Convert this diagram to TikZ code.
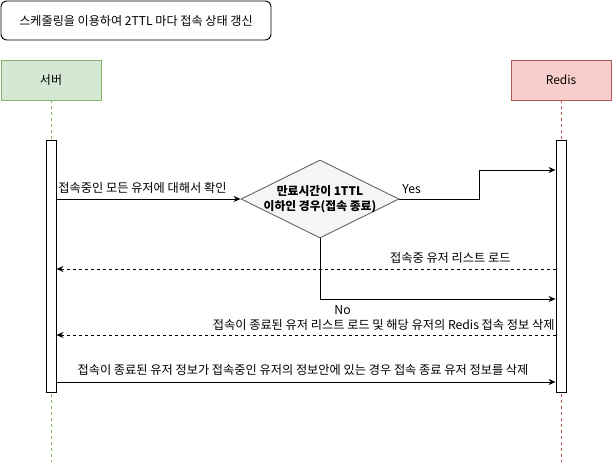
\documentclass[tikz,border=0pt]{standalone}
\usepackage{fontspec}
\setmainfont{Noto Sans CJK KR}
\usetikzlibrary{arrows.meta,shapes.geometric}
\definecolor{grfill}{HTML}{D5E8D4}
\definecolor{grline}{HTML}{82B366}
\definecolor{rdfill}{HTML}{F8CECC}
\definecolor{rdline}{HTML}{B85450}
\definecolor{dmfill}{HTML}{F5F5F5}
\definecolor{dmline}{HTML}{666666}
\tikzset{
  lbl/.style={font=\fontsize{12.2}{14}\selectfont, inner sep=0pt},
  actor/.style={minimum width=100pt, minimum height=40pt, inner sep=0pt, font=\fontsize{12}{14}\selectfont},
  bar/.style={draw, fill=white, minimum width=10pt, inner sep=0pt},
  msg/.style={-{Stealth[length=7pt,width=6pt]}},
  ret/.style={-{Stealth[length=7pt,width=6pt]}, dashed, dash pattern=on 3pt off 3pt},
}
\begin{document}
\begin{tikzpicture}[x=1pt,y=-1pt, line width=0.9pt]
\useasboundingbox (0,0) rectangle (612,462);
% title
\node[draw, rounded corners=6pt, minimum width=270pt, minimum height=39pt, inner sep=0pt, font=\fontsize{12.1}{14}\selectfont] (title) at (136,20.5) {스케줄링을 이용하여 2TTL 마다 접속 상태 갱신};
% actors
\node[actor, draw=grline, fill=grfill] (srv) at (51,80) {서버};
\node[actor, draw=rdline, fill=rdfill] (red) at (561,80) {Redis};
\coordinate (srvend) at (51,462);
\coordinate (redend) at (561,462);
\draw[grline, dashed, dash pattern=on 3pt off 3pt] (srv.south) -- (srvend);
\draw[rdline, dashed, dash pattern=on 3pt off 3pt] (red.south) -- (redend);
% activation bars
\node[bar, minimum height=252pt] (sb) at (51,266) {};
\node[bar, minimum height=252pt] (rb) at (561,266) {};
% diamond
\node[diamond, draw=dmline, fill=dmfill, minimum width=158pt, minimum height=78pt, inner sep=0pt, aspect=2] (dm) at (320,199) {};
\node[align=center, inner sep=0pt, font=\fontsize{11.8}{15}\selectfont\bfseries] (dmt) at (dm.center) {만료시간이 1TTL\\이하인 경우(접속 종료)};
% message 1
\draw[msg] (sb.east |- 0,199) -- (dm.west);
\node[lbl, anchor=south west] (l1) at (58,194) {접속중인 모든 유저에 대해서 확인};
% yes
\coordinate (y1) at (479,199);
\coordinate (y2) at (479,170);
\draw[msg] (dm.east) -- (y1) -- (y2) -- (rb.west |- 0,170);
\node[lbl, anchor=south west] (yes) at (402,194) {Yes};
% return 1
\draw[ret] (rb.west |- 0,269) -- (sb.east |- 0,269);
\node[lbl, anchor=south east] (l2) at (511,264) {접속중 유저 리스트 로드};
% no
\coordinate (n1) at (320,299);
\draw[msg] (dm.south) -- (n1) -- (rb.west |- 0,299);
\node[lbl, anchor=north west] (no) at (334,305) {No};
% return 2
\draw[ret] (rb.west |- 0,335) -- (sb.east |- 0,335);
\node[lbl, anchor=south east] (l3) at (555,331) {접속이 종료된 유저 리스트 로드 및 해당 유저의 Redis 접속 정보 삭제};
% message final
\draw[msg] (sb.east |- 0,382) -- (rb.west |- 0,382);
\node[lbl, anchor=south] (l4) at (303,376) {접속이 종료된 유저 정보가 접속중인 유저의 정보안에 있는 경우 접속 종료 유저 정보를 삭제};
\end{tikzpicture}
\end{document}
